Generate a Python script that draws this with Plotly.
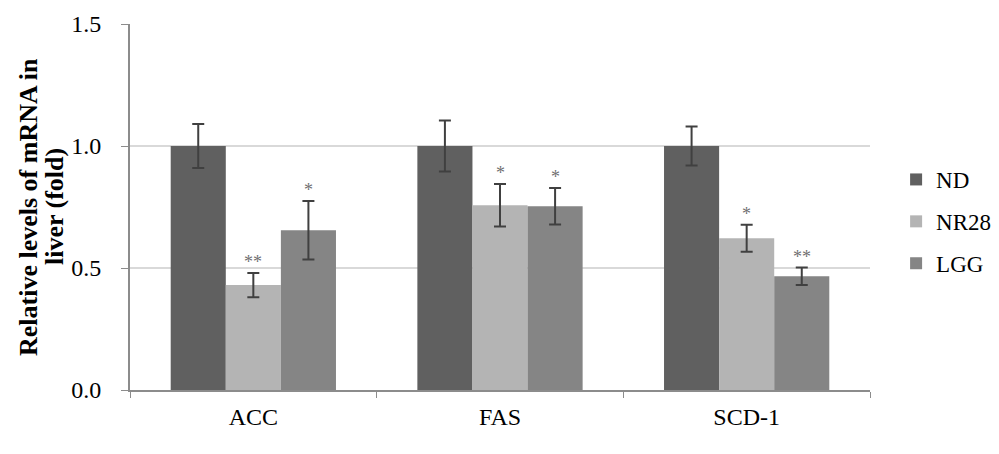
import plotly.graph_objects as go

categories = ["ACC", "FAS", "SCD-1"]
series_names = ["ND", "NR28", "LGG"]
nd_values = [1.0, 1.0, 1.0]
nd_errors = [0.09, 0.104, 0.08]
nr28_values = [0.43, 0.757, 0.622]
nr28_errors = [0.05, 0.087, 0.055]
lgg_values = [0.655, 0.753, 0.466]
lgg_errors = [0.12, 0.075, 0.036]
nr28_marks = ["**", "*", "*"]
lgg_marks = ["*", "*", "**"]
y_ticks = [0.0, 0.5, 1.0, 1.5]
y_tick_labels = ["0.0", "0.5", "1.0", "1.5"]
y_title_lines = ["Relative levels of mRNA in", "liver (fold)"]

colors = ["#606060", "#b4b4b4", "#858585"]
FONT = "Liberation Serif"

fig = go.Figure()
for name, vals, errs, col in zip(series_names,
                                 [nd_values, nr28_values, lgg_values],
                                 [nd_errors, nr28_errors, lgg_errors],
                                 colors):
    fig.add_trace(go.Bar(
        x=categories, y=vals, name=name, legendgroup=name,
        marker=dict(color=col, line=dict(color=col, width=0)),
        error_y=dict(type="data", array=errs, visible=True,
                     color="#404040", thickness=2, width=6),
    ))

# significance marks
for shift, vals, errs, marks in [(0, nr28_values, nr28_errors, nr28_marks),
                                 (55, lgg_values, lgg_errors, lgg_marks)]:
    for c, v, e, m in zip(categories, vals, errs, marks):
        fig.add_annotation(x=c, y=v + e, text=m, showarrow=False,
                           xshift=shift, yshift=11, yanchor="middle",
                           font=dict(family=FONT, size=18, color="#707070"))

# y-axis title as two rotated lines (tight Excel-like spacing)
for line, xpx in zip(y_title_lines, [28, 54]):
    fig.add_annotation(text="<b>%s</b>" % line, textangle=-90,
                       xref="paper", yref="paper",
                       x=(xpx - 130) / 740.0, y=0.5,
                       xanchor="center", yanchor="middle", showarrow=False,
                       font=dict(family=FONT, size=26, color="black"))

fig.update_layout(
    width=999, height=454,
    margin=dict(l=130, r=129, t=24, b=64),
    paper_bgcolor="white", plot_bgcolor="white",
    barmode="group", bargap=0.33, bargroupgap=0,
    font=dict(family=FONT, size=24, color="black"),
    showlegend=True,
    legend=dict(xref="container", yref="container",
                x=0.897, y=0.652, xanchor="left", yanchor="top",
                font=dict(family=FONT, size=23, color="black"),
                tracegroupgap=9, itemwidth=30),
)
fig.update_xaxes(
    showline=True, linecolor="#8c8c8c", linewidth=2,
    ticks="outside", tickson="boundaries", ticklen=6, tickcolor="#8c8c8c",
    tickfont=dict(family=FONT, size=24, color="black"),
    ticklabelstandoff=4,
    showgrid=False,
)
fig.update_yaxes(
    range=[0, 1.5], tickvals=y_ticks, ticktext=y_tick_labels,
    showline=True, linecolor="#8c8c8c", linewidth=2,
    ticks="outside", ticklen=7, tickcolor="#8c8c8c",
    tickfont=dict(family=FONT, size=24, color="black"),
    ticklabelstandoff=15,
    showgrid=True, gridcolor="#d9d9d9", gridwidth=2,
    zeroline=False,
)

fig.write_html("out.html", config={"displayModeBar": False},
               post_script="document.body.style.margin='0';")
